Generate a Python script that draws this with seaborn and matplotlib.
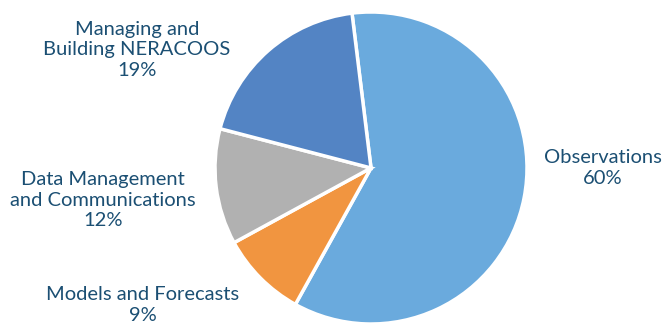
import matplotlib
matplotlib.use("Agg")
import matplotlib.pyplot as plt
import seaborn as sns

# Données
categories = ["Observations", "Models and Forecasts", "Data Management\nand Communications", "Managing and\nBuilding NERACOOS"]
shares = [60, 9, 12, 19]
colors = ["#6aaadd", "#f19540", "#b1b1b1", "#5384c4"]

sns.set_theme(style="white")
plt.rcParams["font.family"] = ["Lato", "DejaVu Sans"]

fig = plt.figure(figsize=(6.65, 3.24), dpi=100)
ax = fig.add_axes([0, 0, 1, 1])

H = 324  # hauteur en pixels, on travaille en coordonnées "pixel" (y vers le haut)
ax.pie(shares, colors=colors, startangle=97, counterclock=False,
       center=(371, H - 168), radius=156,
       wedgeprops=dict(edgecolor="white", linewidth=2.5))
ax.set_xlim(0, 665)
ax.set_ylim(0, H)
ax.set_aspect("equal")
ax.axis("off")

# Étiquettes
label_pos = [(603, 168), (143, 305), (103, 200), (137, 50)]
text_color = "#1b4f73"
for cat, val, (x, y) in zip(categories, shares, label_pos):
    ax.text(x, H - y, f"{cat}\n{val}%", ha="center", va="center", fontsize=14.5,
            color=text_color, linespacing=1.25)

fig.savefig("out.png", dpi=100)
